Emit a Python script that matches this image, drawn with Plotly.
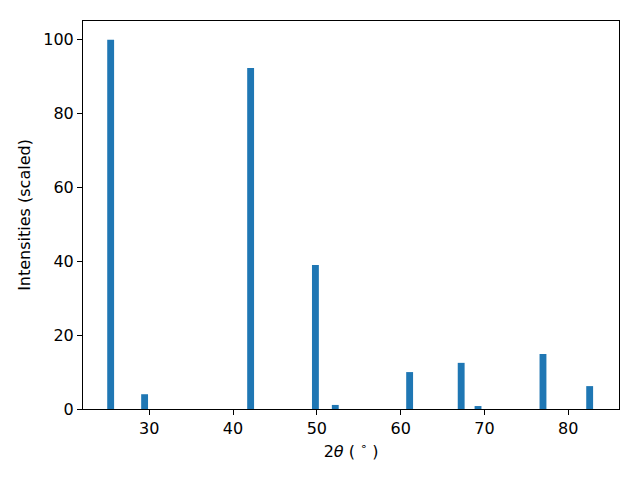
import plotly.graph_objects as go

two_theta = [25.4, 29.45, 42.1, 49.83, 52.2, 61.07, 67.22, 69.23, 76.98, 82.55]
intensity = [100.0, 4.0, 92.4, 39.0, 1.1, 10.0, 12.5, 0.8, 14.9, 6.2]
x_ticks = [30, 40, 50, 60, 70, 80]
y_ticks = [0, 20, 40, 60, 80, 100]

fig = go.Figure(go.Bar(x=two_theta, y=intensity, width=0.82,
                       marker=dict(color="#1f77b4", line=dict(width=0))))

font = dict(family="DejaVu Sans", size=16, color="black")
axis_common = dict(showline=True, linecolor="black", linewidth=1, mirror=True,
                   ticks="outside", ticklen=5, tickwidth=1, tickcolor="black",
                   showgrid=False, zeroline=False, tickfont=font, automargin=False)

# page body has an 8px default margin, so the figure is shrunk by 8px
fig.update_layout(
    width=632, height=472,
    margin=dict(l=75, r=21, t=13, b=71),
    paper_bgcolor="white", plot_bgcolor="white",
    font=font,
    showlegend=False,
    xaxis=dict(range=[22.1, 86.05], tickvals=x_ticks,
               title=dict(text="2<i>θ</i> ( <sup>∘</sup> )", font=font, standoff=8),
               **axis_common),
    yaxis=dict(range=[0, 105.1], tickvals=y_ticks,
               title=dict(text="Intensities (scaled)", font=font, standoff=8),
               **axis_common),
)

fig.write_html("out.html")
